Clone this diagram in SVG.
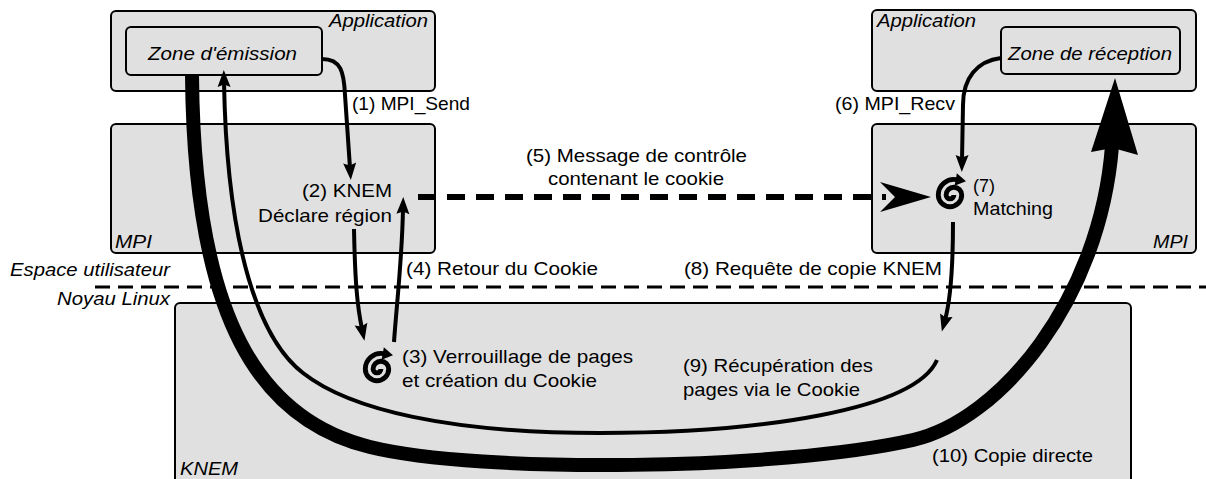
<svg xmlns="http://www.w3.org/2000/svg" width="1206" height="479" viewBox="0 0 1206 479">
  <style>
    .box { fill: #e0e0e0; stroke: #000; stroke-width: 2; }
    .t { font-family: "Liberation Sans", Arial, sans-serif; font-size: 19px; fill: #000; }
    .i { font-style: italic; }
    .ln { fill: none; stroke: #000; stroke-width: 4; }
    .sp { fill: none; stroke: #000; stroke-width: 2.5; }
  </style>
  <defs>
    <marker id="ah" markerUnits="userSpaceOnUse" orient="auto" overflow="visible" refX="0" refY="0" markerWidth="1" markerHeight="1">
      <path d="M12,0 L-5,-6.5 L-2.5,0 L-5,6.5 z" fill="#000"/>
    </marker>
    <!-- spinning spiral glyph: winds clockwise outward, arrow at the outer end -->
    <g id="spiral">
      <path class="sp" d="M2,0 A2,2 0 0 1 -2,0 A4,4 0 0 1 6,0 A6,6 0 0 1 -6,0 A8,8 0 0 1 3.4,-7.9"/>
      <path d="M8.2,-7.1 L2.3,-4.8 L3,-8 L3.5,-11.2 z" fill="#000"/>
    </g>
  </defs>

  <!-- user-space / kernel separator -->
  <path d="M95,287 L1206,287" fill="none" stroke="#000" stroke-width="3" stroke-dasharray="15 8"/>

  <g id="app-left">
    <rect class="box" x="111" y="11" width="324" height="80" rx="5"/>
    <text class="t i" x="329" y="27" textLength="99" lengthAdjust="spacingAndGlyphs">Application</text>
  </g>
  <g id="zone-emission">
    <rect class="box" x="126" y="27" width="196" height="48" rx="5"/>
    <text class="t i" x="148" y="60" textLength="149" lengthAdjust="spacingAndGlyphs">Zone d'émission</text>
  </g>
  <g id="mpi-left">
    <rect class="box" x="111" y="124" width="324" height="129" rx="5"/>
    <text class="t i" x="115" y="248" textLength="37" lengthAdjust="spacingAndGlyphs">MPI</text>
  </g>
  <g id="app-right">
    <rect class="box" x="872" y="10" width="324" height="81" rx="5"/>
    <text class="t i" x="877" y="27" textLength="99" lengthAdjust="spacingAndGlyphs">Application</text>
  </g>
  <g id="zone-reception">
    <rect class="box" x="1001" y="27" width="179" height="47" rx="5"/>
    <text class="t i" x="1008" y="60" textLength="164" lengthAdjust="spacingAndGlyphs">Zone de réception</text>
  </g>
  <g id="mpi-right">
    <rect class="box" x="872" y="124" width="324" height="129" rx="5"/>
    <text class="t i" x="1153" y="248" textLength="35" lengthAdjust="spacingAndGlyphs">MPI</text>
  </g>
  <g id="knem">
    <rect class="box" x="175" y="303" width="956" height="190" rx="5"/>
    <text class="t i" x="180" y="475" textLength="58" lengthAdjust="spacingAndGlyphs">KNEM</text>
  </g>

  <g id="layers">
    <text class="t i" x="10" y="276" textLength="160" lengthAdjust="spacingAndGlyphs">Espace utilisateur</text>
    <text class="t i" x="57" y="305" textLength="113" lengthAdjust="spacingAndGlyphs">Noyau Linux</text>
  </g>

  <g id="connectors">
    <!-- (10) direct copy -->
    <path d="M192,75 C194,320 260,420 370,447 C480,474 780,470 913,440 C1000,420 1100,300 1112,146" fill="none" stroke="#000" stroke-width="14"/>
    <path d="M1115,78 L1138,155 L1113,148 L1091,152 z" fill="#000"/>
    <!-- (9) page retrieval back to the send buffer -->
    <path class="ln" d="M937,360 C915,410 760,433 600,433 C450,433 350,410 303,373 C260,340 227,250 224,82" marker-end="url(#ah)"/>
    <!-- (1) MPI_Send -->
    <path class="ln" d="M322,59 C341,59 344,72 345,95 L350,168" marker-end="url(#ah)"/>
    <!-- (2) -> (3) -->
    <path class="ln" d="M354,229 C355,280 357,305 362,329" marker-end="url(#ah)"/>
    <!-- (4) cookie returned -->
    <path class="ln" d="M394,342 C397,300 402,260 403,209" marker-end="url(#ah)"/>
    <!-- (6) MPI_Recv -->
    <path class="ln" d="M1001,58 C977,61 963,78 963,105 L962,160" marker-end="url(#ah)"/>
    <!-- (8) copy request -->
    <path class="ln" d="M953,222 C953,270 951,298 945,320" marker-end="url(#ah)"/>
    <!-- (5) control message -->
    <path d="M418,197 L886,197" fill="none" stroke="#000" stroke-width="6" stroke-dasharray="18 11"/>
    <path d="M931,197 L880,182 L895,197 L880,212 z" fill="#000"/>
  </g>

  <g id="step-3">
    <use href="#spiral" transform="translate(377,369) scale(1.95)"/>
    <text class="t" x="402" y="363" textLength="231" lengthAdjust="spacingAndGlyphs">(3) Verrouillage de pages</text>
    <text class="t" x="402" y="387" textLength="195" lengthAdjust="spacingAndGlyphs">et création du Cookie</text>
  </g>
  <g id="step-7">
    <use href="#spiral" transform="translate(950,195) scale(1.95)"/>
    <text class="t" x="973" y="192" textLength="22" lengthAdjust="spacingAndGlyphs">(7)</text>
    <text class="t" x="973" y="215" textLength="80" lengthAdjust="spacingAndGlyphs">Matching</text>
  </g>

  <g id="labels">
    <text class="t" x="352" y="110" textLength="118" lengthAdjust="spacingAndGlyphs">(1) MPI_Send</text>
    <text class="t" x="302" y="197" textLength="90" lengthAdjust="spacingAndGlyphs">(2) KNEM</text>
    <text class="t" x="258" y="222" textLength="134" lengthAdjust="spacingAndGlyphs">Déclare région</text>
    <text class="t" x="406" y="275" textLength="192" lengthAdjust="spacingAndGlyphs">(4) Retour du Cookie</text>
    <text class="t" x="526" y="162" textLength="221" lengthAdjust="spacingAndGlyphs">(5) Message de contrôle</text>
    <text class="t" x="548" y="185" textLength="176" lengthAdjust="spacingAndGlyphs">contenant le cookie</text>
    <text class="t" x="835" y="110" textLength="120" lengthAdjust="spacingAndGlyphs">(6) MPI_Recv</text>
    <text class="t" x="684" y="275" textLength="258" lengthAdjust="spacingAndGlyphs">(8) Requête de copie KNEM</text>
    <text class="t" x="683" y="372" textLength="190" lengthAdjust="spacingAndGlyphs">(9) Récupération des</text>
    <text class="t" x="683" y="396" textLength="177" lengthAdjust="spacingAndGlyphs">pages via le Cookie</text>
    <text class="t" x="932" y="462" textLength="161" lengthAdjust="spacingAndGlyphs">(10) Copie directe</text>
  </g>
</svg>
